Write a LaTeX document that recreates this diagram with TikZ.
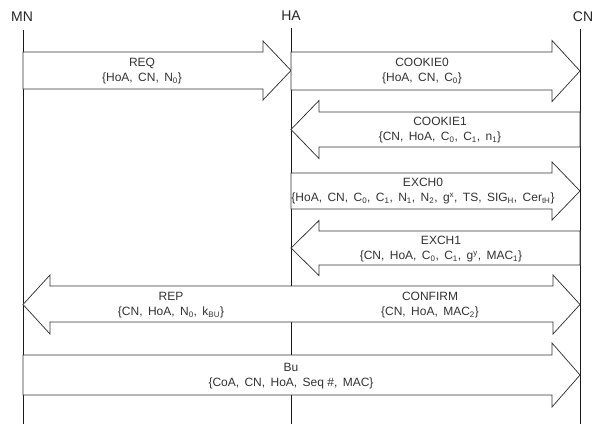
\documentclass[tikz,border=0pt]{standalone}
\usepackage{fontspec}
\setmainfont{Liberation Sans}
\newcommand\rblk[5]{% start x, tip x, centre y, body half, head half
  \draw[blk] (#1,#3-#4) -- (#2-28,#3-#4) -- (#2-28,#3-#5) -- (#2,#3)
    -- (#2-28,#3+#5) -- (#2-28,#3+#4) -- (#1,#3+#4) -- cycle;}
\newcommand\lblk[5]{% start x, tip x, centre y, body half, head half
  \draw[blk] (#1,#3-#4) -- (#2+28,#3-#4) -- (#2+28,#3-#5) -- (#2,#3)
    -- (#2+28,#3+#5) -- (#2+28,#3+#4) -- (#1,#3+#4) -- cycle;}
\newcommand\sub[1]{\textsubscript{#1}}
\newcommand\gap{\hspace{0.45em}}
\begin{document}
\begin{tikzpicture}[x=1pt,y=-1pt,
  blk/.style={draw=black!80, line width=0.75pt, fill=white, line join=miter},
  life/.style={draw=black!90, line width=1pt},
  lbl/.style={font=\fontsize{14}{16}\selectfont, text=black!85, inner sep=0pt},
  msg/.style={font=\fontsize{12}{15.5}\selectfont, text=black!80, align=center, inner sep=0pt}]
\useasboundingbox[fill=white] (0,0) rectangle (599,424);
% lifelines
\node[lbl] (MN) at (22,17) {MN};
\node[lbl] (HA) at (291,16) {HA};
\node[lbl] (CN) at (583,17) {CN};
\coordinate (MNt) at (23,30);  \coordinate (MNb) at (23,424);
\coordinate (HAt) at (291,28); \coordinate (HAb) at (291,424);
\coordinate (CNt) at (580,29); \coordinate (CNb) at (580,424);
\draw[life] (MNt) -- (MNb);
\draw[life] (HAt) -- (HAb);
\draw[life] (CNt) -- (CNb);
% REQ and COOKIE0
\rblk{23}{291}{70.5}{18.5}{29.5}
\rblk{291}{580}{71}{19}{30.5}
\node[msg] (req) at (142,71) {REQ\\\{HoA,\gap CN,\gap N\sub{0}\}};
\node[msg] (ck0) at (422,71) {COOKIE0\\\{HoA,\gap CN,\gap C\sub{0}\}};
% COOKIE1
\lblk{580}{291}{129.5}{17.5}{29}
\node[msg] (ck1) at (440,130) {COOKIE1\\\{CN,\gap HoA,\gap C\sub{0},\gap C\sub{1},\gap n\sub{1}\}};
% EXCH0
\rblk{291}{580}{191}{18}{29}
\node[msg] (ex0) at (423,191) {EXCH0\\\{HoA,\gap CN,\gap C\sub{0},\gap C\sub{1},\gap N\sub{1},\gap N\sub{2},\gap g\textsuperscript{x},\gap TS,\gap SIG\sub{H},\gap Cer\sub{tH}\}};
% EXCH1
\lblk{580}{291}{248}{17}{27.5}
\node[msg] (ex1) at (441,249) {EXCH1\\\{CN,\gap HoA,\gap C\sub{0},\gap C\sub{1},\gap g\textsuperscript{y},\gap MAC\sub{1}\}};
% REP / CONFIRM
\draw[blk] (50,286) -- (553,286) -- (553,275) -- (580,304.5) -- (553,334) -- (553,322)
  -- (50,322) -- (50,334) -- (23,304.5) -- (50,275) -- cycle;
\node[msg] (rep) at (171,305) {REP\\\{CN,\gap HoA,\gap N\sub{0},\gap k\sub{BU}\}};
\node[msg] (cnf) at (430,305) {CONFIRM\\\{CN,\gap HoA,\gap MAC\sub{2}\}};
% Bu
\rblk{23}{580}{375}{20}{32}
\node[msg] (bu) at (291,376) {Bu\\\{CoA,\gap CN,\gap HoA,\gap Seq \#,\gap MAC\}};
\end{tikzpicture}
\end{document}
